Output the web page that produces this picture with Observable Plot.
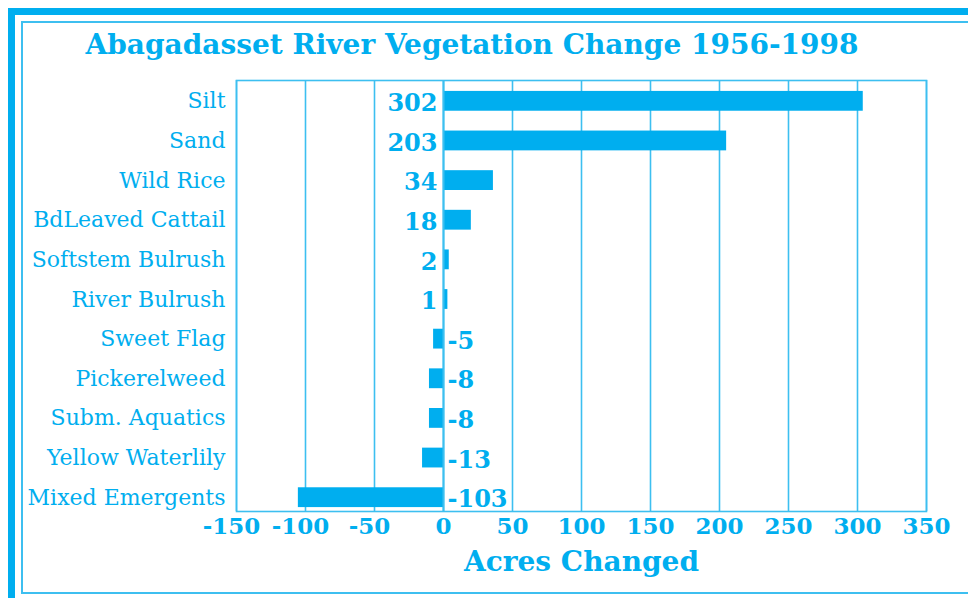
<!DOCTYPE html>
<html><head><meta charset="utf-8">
<script src="https://cdn.jsdelivr.net/npm/d3@7"></script>
<script src="https://cdn.jsdelivr.net/npm/@observablehq/plot@0.6"></script>
<style>
body{margin:0;background:#fff;width:968px;height:598px;overflow:hidden;position:relative;font-family:"DejaVu Serif",serif}
#outer{position:absolute;left:8px;top:8px;width:2000px;height:2000px;border-left:7px solid #00AEEF;border-top:7px solid #00AEEF}
#inner{position:absolute;left:21px;top:21px;width:2000px;height:569px;border:2px solid #3DBFF0}
#title{position:absolute;left:0;width:944px;top:31px;line-height:28px;text-align:center;font-weight:bold;font-size:28px;color:#00AEEF;white-space:nowrap}
#chart{position:absolute;left:0;top:0}
</style></head>
<body>
<div id="outer"></div>
<div id="inner"></div>
<div id="title">Abagadasset River Vegetation Change 1956-1998</div>
<div id="chart"></div>
<script>
const categories = ["Silt","Sand","Wild Rice","BdLeaved Cattail","Softstem Bulrush","River Bulrush","Sweet Flag","Pickerelweed","Subm. Aquatics","Yellow Waterlily","Mixed Emergents"];
const values = [302,203,34,18,2,1,-5,-8,-8,-13,-103];
const xTicks = [-150,-100,-50,0,50,100,150,200,250,300,350];
const axisTitle = "Acres Changed";

const data = categories.map((c,i)=>({category:c, value:values[i]}));
const pos = data.filter(d=>d.value>=0);
const neg = data.filter(d=>d.value<0);
const fillC = "#00AEEF";
const lineC = "#3DBFF0";
const tickOpts = {tickSize: 0, tickPadding: 0, fontSize: 23, fontWeight: "bold", fill: fillC, label: null, tickFormat: d=>String(d)};

const chart = Plot.plot({
  width: 968, height: 598,
  marginLeft: 236, marginRight: 42, marginTop: 81, marginBottom: 81,
  style: {fontFamily: "DejaVu Serif", background: "transparent", color: fillC},
  x: {domain: [-150, 350]},
  y: {domain: categories, paddingInner: 0.5, paddingOuter: 0.25, round: false},
  marks: [
    Plot.ruleX(xTicks, {stroke: lineC, strokeWidth: 1.6, insetBottom: 6, insetTop: -1}),
    Plot.frame({stroke: lineC, strokeWidth: 1.6, insetBottom: 6, insetTop: -1}),
    Plot.barX(pos, {x: "value", y: "category", fill: fillC, insetRight: -3}),
    Plot.barX(neg, {x: "value", y: "category", fill: fillC, insetLeft: -3}),
    Plot.ruleX([0], {stroke: lineC, strokeWidth: 2, insetBottom: 6, insetTop: -1}),
    Plot.text(pos, {x: 0, y: "category", text: d=>String(d.value), textAnchor: "end", dx: -6, dy: 2, fontSize: 24, fontWeight: "bold", fill: fillC}),
    Plot.text(neg, {x: 0, y: "category", text: d=>String(d.value), textAnchor: "start", dx: 4, dy: 2, fontSize: 24, fontWeight: "bold", fill: fillC}),
    Plot.axisY({tickSize: 0, tickPadding: 11, fontSize: 22, fill: fillC, label: null}),
    Plot.axisX(xTicks.filter(t=>t>=0), tickOpts),
    Plot.axisX(xTicks.filter(t=>t<0), {...tickOpts, dx: -5}),
    Plot.text([axisTitle], {text: d=>d, frameAnchor: "bottom", dy: 53, fontSize: 28, fontWeight: "bold", fill: fillC})
  ]
});
document.getElementById("chart").appendChild(chart);
</script>
</body></html>
